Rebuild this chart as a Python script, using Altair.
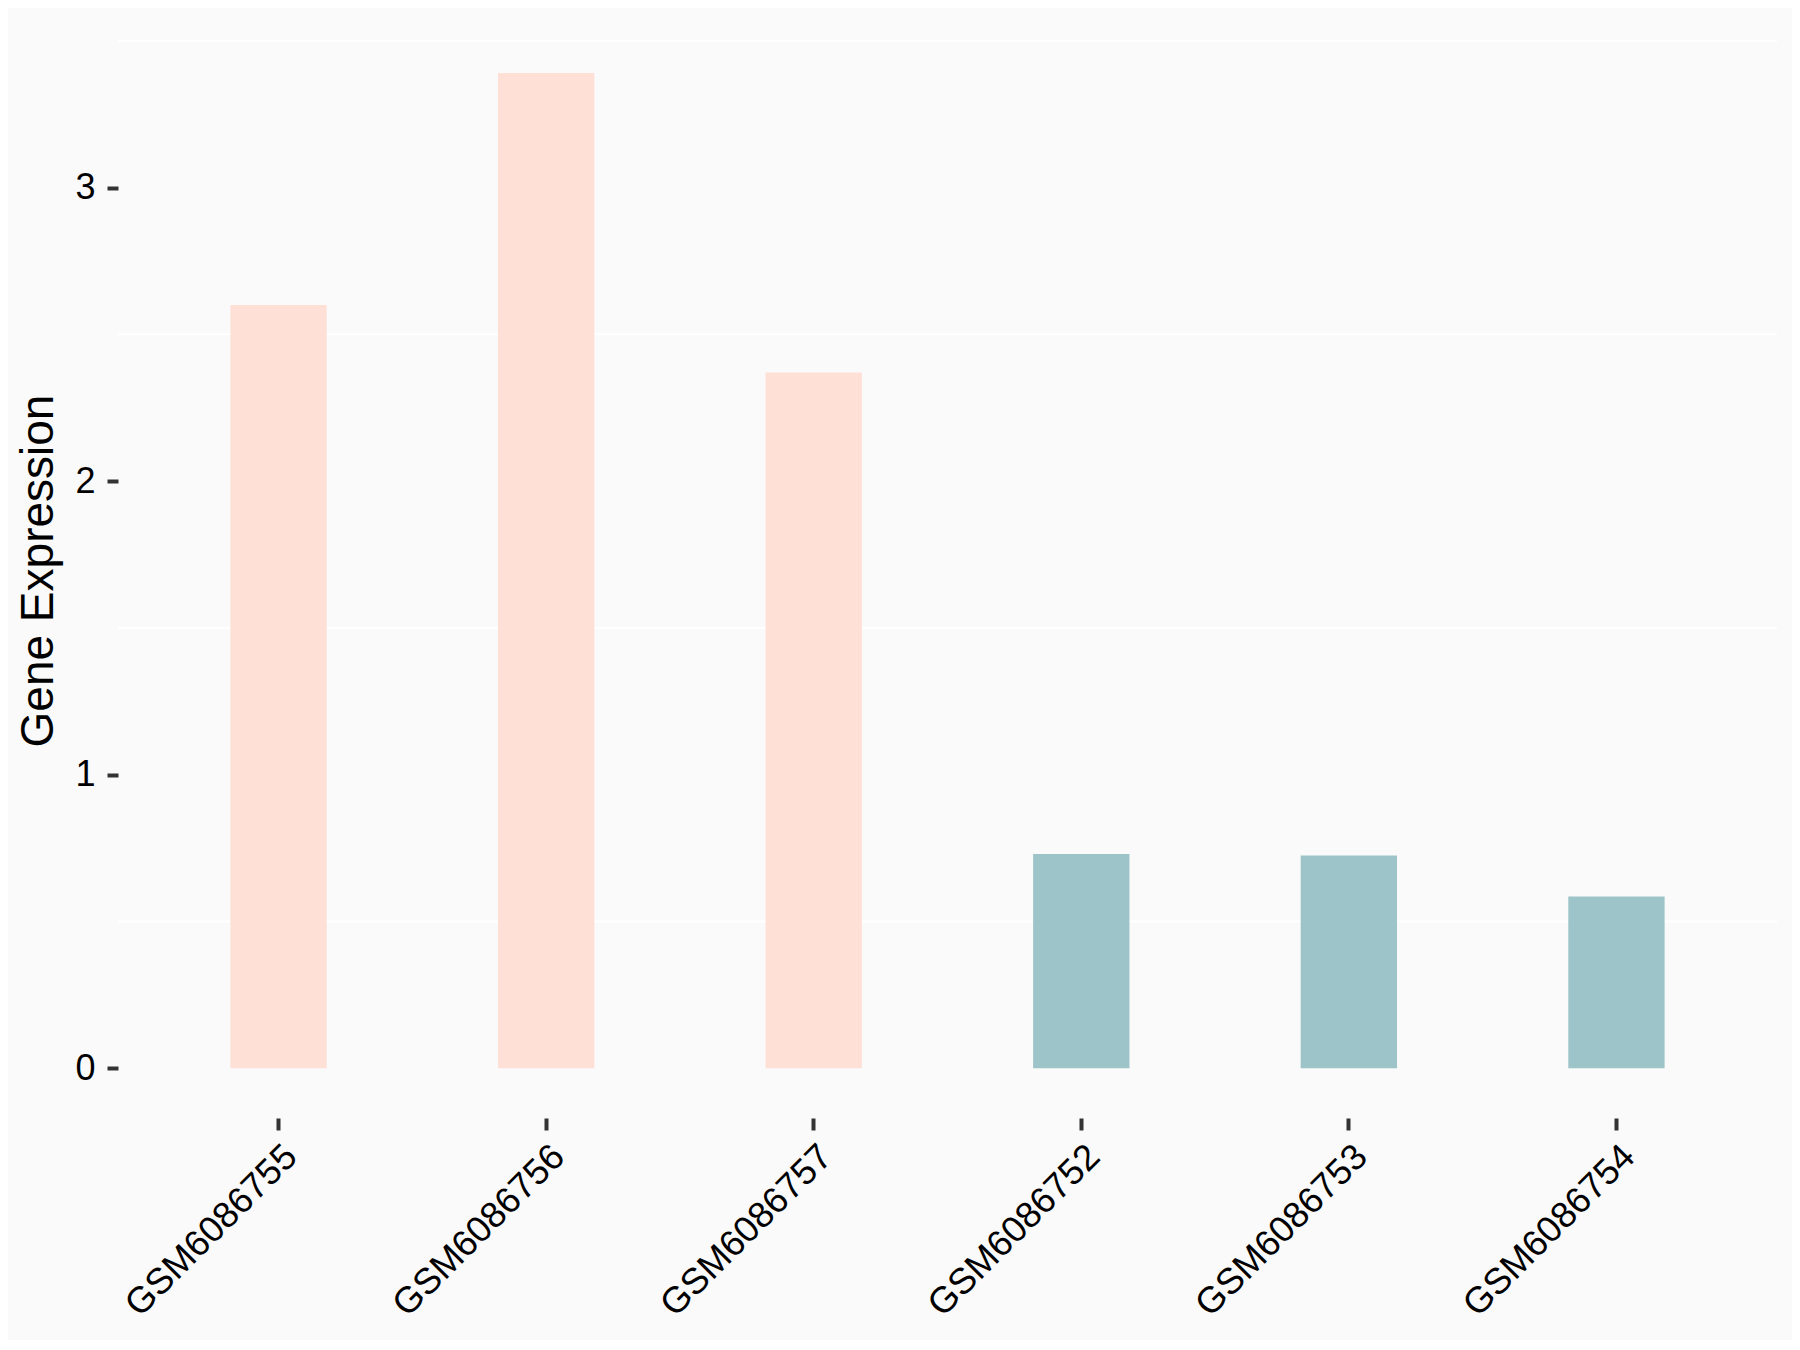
import altair as alt
import pandas as pd

samples = ["GSM6086755", "GSM6086756", "GSM6086757", "GSM6086752", "GSM6086753", "GSM6086754"]
expression = [2.60, 3.39, 2.37, 0.73, 0.725, 0.585]
groups = ["A", "A", "A", "B", "B", "B"]
group_names = ["A", "B"]
group_colors = ["#FEE0D6", "#9DC4C8"]
grid_values = [0.5, 1.5, 2.5, 3.5]
y_ticks = [0, 1, 2, 3]
y_domain = [-0.1696, 3.5606]

df = pd.DataFrame({"sample": samples, "expr": expression, "group": groups})
grid_df = pd.DataFrame({"g": grid_values})

FONT = "Liberation Sans"
yscale = alt.Scale(domain=y_domain, nice=False, zero=False)
xscale = alt.Scale(paddingInner=0.64, paddingOuter=0.42)

y_axis = alt.Axis(
    title="Gene Expression",
    titleFont=FONT,
    titleFontSize=46,
    titleFontWeight="normal",
    titleColor="#000000",
    titlePadding=12,
    values=y_ticks,
    labelFontSize=36,
    labelFont=FONT,
    labelColor="#000000",
    labelPadding=12,
    tickSize=11,
    tickWidth=4,
    tickColor="#333333",
    domain=False,
    grid=False,
)

grid = alt.Chart(grid_df).mark_rule(color="#FFFFFF", strokeWidth=2).encode(
    y=alt.Y("g:Q", scale=yscale, axis=y_axis, title="Gene Expression")
)

bars = alt.Chart(df).mark_bar().encode(
    x=alt.X(
        "sample:N",
        sort=samples,
        scale=xscale,
        axis=alt.Axis(
            title=None,
            labelAngle=-45,
            labelAlign="right",
            labelBaseline="top",
            labelFontSize=36.5,
            labelFont=FONT,
            labelColor="#000000",
            labelPadding=8,
            labelLimit=0,
            labelOverlap=False,
            tickSize=12,
            tickWidth=4,
            tickColor="#333333",
            domain=False,
            grid=False,
        ),
    ),
    y=alt.Y("expr:Q", scale=yscale, axis=y_axis, title="Gene Expression"),
    y2=alt.datum(0),
    color=alt.Color("group:N", scale=alt.Scale(domain=group_names, range=group_colors), legend=None),
)

chart = (
    alt.layer(grid, bars)
    .properties(
        width=1659,
        height=1095,
        background="#FAFAFA",
        autosize=alt.AutoSizeParams(type="none"),
        padding={"left": 110, "top": 15, "right": 15, "bottom": 222},
    )
    .configure_view(stroke=None, fill="#FAFAFA")
)

chart.save("out.html", embed_options={"renderer": "svg", "actions": False})
